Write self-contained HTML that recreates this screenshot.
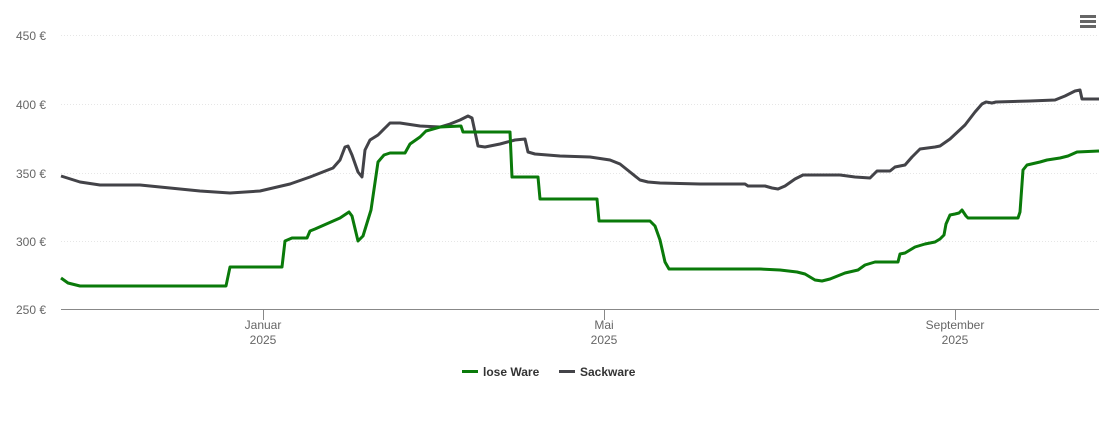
<!DOCTYPE html>
<html><head><meta charset="utf-8"><style>
body{margin:0;background:#fff;font-family:"Liberation Sans",sans-serif}
</style></head><body>
<svg width="1110" height="422" xmlns="http://www.w3.org/2000/svg" font-family="Liberation Sans, sans-serif">
<g stroke="#e6e6e6" stroke-dasharray="1,2" stroke-width="1">
<line x1="61" y1="35.5" x2="1099" y2="35.5"/><line x1="61" y1="104.5" x2="1099" y2="104.5"/>
<line x1="61" y1="173.5" x2="1099" y2="173.5"/><line x1="61" y1="241.5" x2="1099" y2="241.5"/>
</g>
<line x1="61" y1="309.5" x2="1099" y2="309.5" stroke="#888" stroke-width="1"/>
<g stroke="#888"><line x1="263.5" y1="310" x2="263.5" y2="320"/><line x1="604.5" y1="310" x2="604.5" y2="320"/><line x1="955.5" y1="310" x2="955.5" y2="320"/></g>
<g font-size="12" fill="#666" text-anchor="end">
<text x="46" y="40">450 €</text><text x="46" y="109">400 €</text><text x="46" y="178">350 €</text><text x="46" y="246">300 €</text><text x="46" y="314">250 €</text>
</g>
<g font-size="12" fill="#666" text-anchor="middle">
<text x="263" y="329">Januar</text><text x="263" y="344">2025</text>
<text x="604" y="329">Mai</text><text x="604" y="344">2025</text>
<text x="955" y="329">September</text><text x="955" y="344">2025</text>
</g>
<polyline fill="none" stroke="#434348" stroke-width="3" stroke-linejoin="round" points="61,176 80,182 100,185 140,185 170,188 200,191 230,193 260,191 290,184 310,177 333,168 340,160 345,147 348,146 352,155 358,172 362,177 365,150 370,140 378,135 385,128 390,123 400,123 420,126 440,127 450,124 460,120 468,116 472,118 478,146 485,147 500,144 515,140 525,139 528,152 535,154 560,156 590,157 610,160 620,164 630,172 640,180 648,182 660,183 700,184 745,184 748,186 765,186 772,188 778,189 785,186 795,179 803,175 840,175 855,177 870,178 877,171 890,171 895,167 905,165 912,157 920,149 935,147 940,146 950,139 965,125 975,112 982,104 986,102 992,103 996,102 1030,101 1055,100 1065,96 1075,91 1080,90 1082,99 1099,99"/>
<polyline fill="none" stroke="#0a7a0a" stroke-width="3" stroke-linejoin="round" points="61,278 68,283 80,286 226,286 230,267 282,267 285,241 292,238 307,238 310,231 315,229 340,218 349,212 352,216 358,241 363,236 371,210 378,162 384,155 390,153 405,153 410,144 420,137 426,131 440,127 461,126 463,132 510,132 512,177 538,177 540,199 597,199 599,221 650,221 655,226 660,240 665,262 669,269 760,269 780,270 797,272 805,274 815,280 822,281 830,279 845,273 858,270 865,265 875,262 898,262 900,254 905,253 915,247 925,244 935,242 940,239 944,235 946,224 950,215 955,214 959,213 962,210 966,216 968,218 1018,218 1020,212 1023,170 1027,165 1040,162 1047,160 1060,158 1068,156 1077,152 1099,151"/>
<g stroke="#666" stroke-width="3"><line x1="1080" y1="16.5" x2="1096" y2="16.5"/><line x1="1080" y1="21.5" x2="1096" y2="21.5"/><line x1="1080" y1="26.5" x2="1096" y2="26.5"/></g>
<line x1="462" y1="371.5" x2="478" y2="371.5" stroke="#0a7a0a" stroke-width="3"/>
<text x="483" y="376" font-size="12" font-weight="bold" fill="#333">lose Ware</text>
<line x1="559" y1="371.5" x2="575" y2="371.5" stroke="#434348" stroke-width="3"/>
<text x="580" y="376" font-size="12" font-weight="bold" fill="#333">Sackware</text>
</svg>
</body></html>
